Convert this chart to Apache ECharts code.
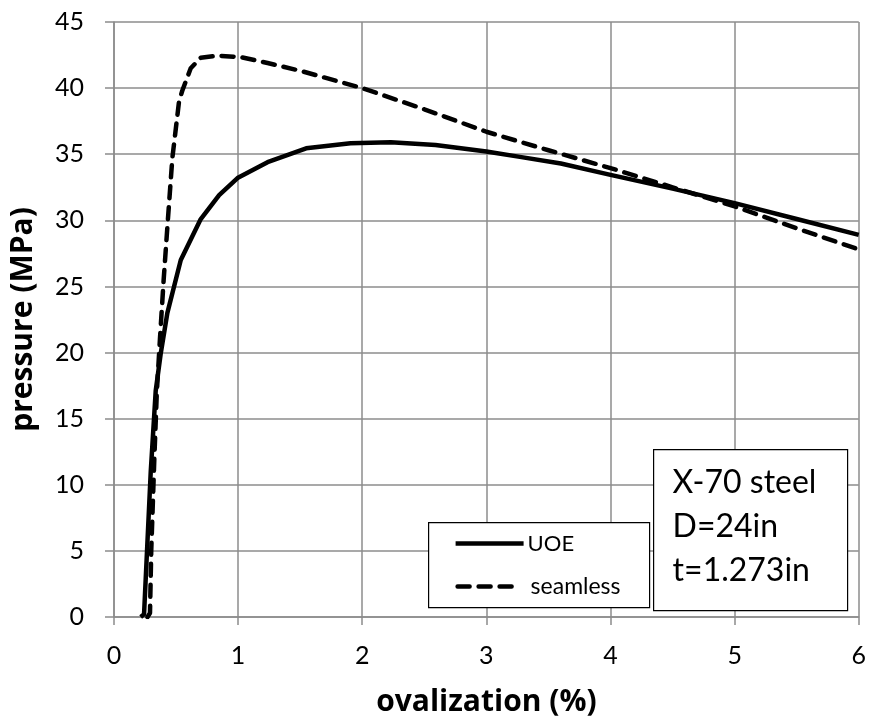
<!DOCTYPE html>
<html>
<head>
<meta charset="utf-8">
<script src="https://cdn.jsdelivr.net/npm/echarts@6/dist/echarts.min.js"></script>
<style>
html,body{margin:0;padding:0;background:#fff;}
#chart{width:869px;height:722px;}
</style>
</head>
<body>
<div id="chart"></div>
<script>
// ---- data ----
const uoeX = [0.215, 0.242, 0.296, 0.336, 0.376, 0.43, 0.538, 0.699, 0.847, 0.995, 1.237, 1.548, 1.905, 2.23, 2.59, 3.0, 3.27, 3.6, 4.0, 4.5, 5.0, 5.5, 6.0];
const uoeY = [0, 0.2, 11, 17.1, 19.9, 23, 27, 30.1, 31.9, 33.2, 34.4, 35.45, 35.83, 35.9, 35.7, 35.2, 34.8, 34.3, 33.44, 32.4, 31.3, 30.1, 28.9];
const seamX = [0.27, 0.29, 0.30, 0.325, 0.345, 0.37, 0.40, 0.43, 0.47, 0.524, 0.55, 0.618, 0.699, 0.833, 1.02, 1.237, 1.505, 2.0, 2.5, 3.0, 3.5, 4.0, 4.5, 5.0, 5.5, 6.0];
const seamY = [0, 0.3, 5, 12, 17, 21, 25.5, 29.5, 34.7, 39.0, 39.8, 41.5, 42.3, 42.45, 42.35, 41.9, 41.3, 40.0, 38.4, 36.7, 35.3, 33.95, 32.5, 31.05, 29.4, 27.8];
const seriesNames = ['UOE', 'seamless'];
const xTitle = 'ovalization (%)';
const yTitle = 'pressure (MPa)';
const noteLines = ['X-70 steel', 'D=24in', 't=1.273in'];

const zip = (xs, ys) => xs.map((x, i) => [x, ys[i]]);
const FONT = 'Lato, "Open Sans", sans-serif';
const TFONT = '"Open Sans", Lato, sans-serif';
const GRID = '#8c8c8c';
const LW = 4.5;
const DASH = [12, 9];

const chart = echarts.init(document.getElementById('chart'), null, {renderer: 'canvas'});
chart.setOption({
  backgroundColor: '#fff',
  animation: false,
  grid: {left: 113, top: 22, width: 748, height: 595},
  xAxis: {
    type: 'value', min: 0, max: 6, interval: 1,
    name: xTitle, nameLocation: 'middle', nameGap: 70,
    nameTextStyle: {fontFamily: TFONT, fontSize: 30, fontWeight: 'bold', color: '#000'},
    axisLine: {show: true, lineStyle: {color: GRID, width: 1.5}},
    axisTick: {show: true, length: 8, lineStyle: {color: GRID, width: 1.5}},
    axisLabel: {fontFamily: FONT, fontSize: 25, color: '#000', margin: 26},
    splitLine: {show: true, lineStyle: {color: GRID, width: 1.5}}
  },
  yAxis: {
    type: 'value', min: 0, max: 45, interval: 5,
    name: yTitle, nameLocation: 'middle', nameGap: 76,
    nameTextStyle: {fontFamily: TFONT, fontSize: 30, fontWeight: 'bold', color: '#000'},
    axisLine: {show: true, lineStyle: {color: GRID, width: 1.5}},
    axisTick: {show: true, length: 9, lineStyle: {color: GRID, width: 1.5}},
    axisLabel: {fontFamily: FONT, fontSize: 25, color: '#000', margin: 30},
    splitLine: {show: true, lineStyle: {color: GRID, width: 1.5}}
  },
  series: [
    {name: seriesNames[0], type: 'line', data: zip(uoeX, uoeY), showSymbol: false, symbol: 'none',
     lineStyle: {color: '#000', width: LW, type: 'solid', join: 'round'}, z: 3},
    {name: seriesNames[1], type: 'line', data: zip(seamX, seamY), showSymbol: false, symbol: 'none',
     lineStyle: {color: '#000', width: LW, type: DASH, cap: 'round', join: 'round'}, z: 2}
  ],
  graphic: [
    {
      type: 'group', left: 428, top: 522, z: 100,
      children: [
        {type: 'rect', z: 100, shape: {x: 0, y: 0, width: 221, height: 85},
         style: {fill: '#fff', stroke: '#000', lineWidth: 1.2}},
        {type: 'line', z: 101, shape: {x1: 27, y1: 21, x2: 95, y2: 21},
         style: {stroke: '#000', lineWidth: LW}},
        {type: 'text', z: 101, x: 99, y: 21, style: {text: seriesNames[0], font: '22px ' + FONT, fill: '#000', textVerticalAlign: 'middle'}},
        {type: 'line', z: 101, shape: {x1: 29, y1: 64, x2: 87, y2: 64},
         style: {stroke: '#000', lineWidth: LW, lineDash: DASH, lineCap: 'round'}},
        {type: 'text', z: 101, x: 102, y: 64, style: {text: seriesNames[1], font: '23px ' + FONT, fill: '#000', textVerticalAlign: 'middle'}}
      ]
    },
    {
      type: 'group', left: 653, top: 449, z: 100,
      children: [
        {type: 'rect', z: 100, shape: {x: 0, y: 0, width: 194, height: 161},
         style: {fill: '#fff', stroke: '#000', lineWidth: 1.2}},
        {type: 'text', z: 101, x: 19, y: 33, style: {text: noteLines[0], font: '32px ' + FONT, fill: '#000', textVerticalAlign: 'middle'}},
        {type: 'text', z: 101, x: 19, y: 77, style: {text: noteLines[1], font: '32px ' + FONT, fill: '#000', textVerticalAlign: 'middle'}},
        {type: 'text', z: 101, x: 19, y: 121, style: {text: noteLines[2], font: '32px ' + FONT, fill: '#000', textVerticalAlign: 'middle'}}
      ]
    }
  ]
});
</script>
</body>
</html>
